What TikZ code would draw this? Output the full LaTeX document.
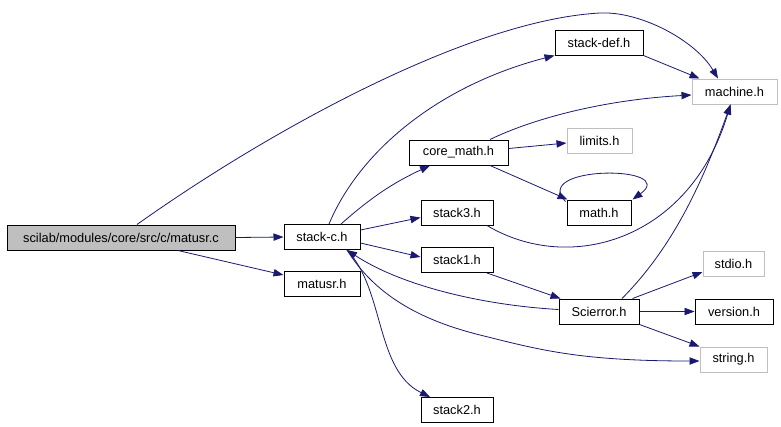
\documentclass[tikz,border=0pt]{standalone}
\usepackage{fontspec}
\setmainfont{Liberation Sans}
\usetikzlibrary{arrows.meta,calc}
\definecolor{edgec}{HTML}{191970}
\definecolor{grayb}{HTML}{BFBFBF}
\tikzset{
  basebox/.style={rectangle, inner sep=0pt, minimum height=18.75pt, font=\fontsize{9.6pt}{11pt}\selectfont, line width=0.75pt},
  incbox/.style={basebox, draw=black, fill=white},
  extbox/.style={basebox, draw=grayb, fill=white},
  mainbox/.style={basebox, draw=black, fill=grayb},
  W/.style={minimum width=#1*0.75pt},
  edge/.style={draw=edgec, line width=0.6pt, -{Triangle[length=7.5pt,width=5.5pt]}},
}
\begin{document}
\begin{tikzpicture}[x=0.75pt,y=-0.75pt]
\useasboundingbox (0,0) rectangle (781,426);
% nodes
\node[mainbox,W=228] (matusrc) at (121,237.5) {scilab/modules/core/src/c/matusr.c};
\node[incbox,W=76] (stackc) at (322,237) {stack-c.h};
\node[incbox,W=76] (matusrh) at (322,283.5) {matusr.h};
\node[incbox,W=88] (stackdef) at (599,42.5) {stack-def.h};
\node[extbox,W=85] (machine) at (734.5,91.5) {machine.h};
\node[incbox,W=99] (coremath) at (458.5,152.5) {core\_math.h};
\node[extbox,W=65] (limits) at (599.5,140.5) {limits.h};
\node[incbox,W=64] (math) at (599,212.5) {math.h};
\node[incbox,W=72] (stack3) at (457,212.5) {stack3.h};
\node[incbox,W=72] (stack1) at (457,260) {stack1.h};
\node[incbox,W=80] (scierror) at (599,311.5) {Scierror.h};
\node[extbox,W=61] (stdio) at (733.5,264) {stdio.h};
\node[incbox,W=78] (version) at (734,311.5) {version.h};
\node[extbox,W=67] (string) at (733.5,359.5) {string.h};
\node[incbox,W=72] (stack2) at (457,410) {stack2.h};
% edges
\draw[edge] (matusrc.east) -- (stackc.west);
\draw[edge] ($(matusrc.south)+(57,0)$) -- ($(matusrh.west)+(0,-8.5)$);
\draw[edge] ($(matusrc.north)+(16,0)$) .. controls (270,130) and (470,20) .. (600,13) .. controls (640,11) and (695,40) .. ($(machine.north)+(-16.5,0)$);
\draw[edge] ($(stackc.north)+(7,0)$) .. controls (360,150) and (440,85) .. (stackdef.south west);
\draw[edge] ($(stackc.north)+(19,0)$) to[bend left=8] ($(coremath.south)+(-28.5,0)$);
\draw[edge] ($(stackc.east)+(0,-7)$) -- ($(stack3.west)+(0,5)$);
\draw[edge] ($(stackc.east)+(0,6)$) -- ($(stack1.west)+(0,-3)$);
\draw[edge] ($(stackc.south)+(25,0)$) .. controls (385,290) and (375,370) .. ($(stack2.north)+(-27,0)$);
\draw[edge] ($(stackc.south)+(25,0)$) .. controls (375,295) and (420,320) .. (480,335) .. controls (540,350) and (580,361) .. ($(string.west)+(0,1.5)$);
\draw[edge] ($(scierror.west)+(0,-2)$) .. controls (480,305) and (400,285) .. ($(stackc.south)+(25,0)$);
\draw[edge] ($(stack3.south)+(30,0)$) .. controls (570,275) and (690,240) .. ($(machine.south)+(-4,0)$);
\draw[edge] ($(scierror.north)+(23,0)$) .. controls (670,250) and (700,190) .. ($(machine.south)+(-4,0)$);
\draw[edge] ($(coremath.north)+(31.5,0)$) .. controls (530,120) and (600,100) .. ($(machine.west)+(0,3.5)$);
\draw[edge] ($(coremath.east)+(0,-4)$) -- ($(limits.west)+(0,2.5)$);
\draw[edge] ($(coremath.south)+(31.5,0)$) -- ($(math.north west)+(1,0)$);
\draw[edge] ($(math.north west)+(-1,2)$) .. controls (530,165) and (680,165) .. ($(math.north east)+(1,0)$);
\draw[edge] ($(stack1.south)+(30,0)$) -- ($(scierror.north west)+(2,0)$);
\draw[edge] ($(scierror.north east)+(-7,0)$) -- ($(stdio.west)+(0,8)$);
\draw[edge] (scierror.east) -- (version.west);
\draw[edge] (scierror.south east) -- (string.north west);
\draw[edge] (stackdef.south east) -- ($(machine.north west)+(8,0)$);
\end{tikzpicture}
\end{document}
